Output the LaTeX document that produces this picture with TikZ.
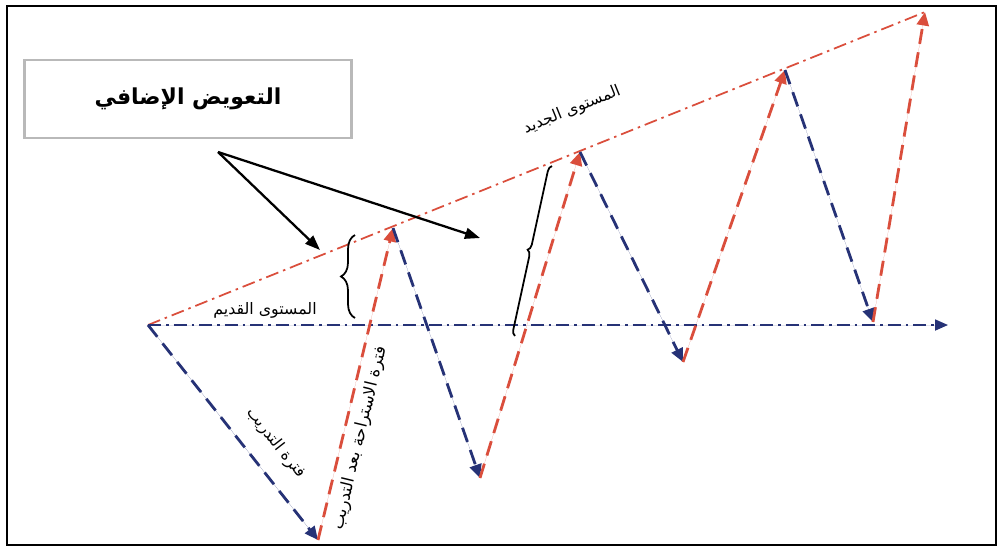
\documentclass[tikz,border=0pt]{standalone}
\usepackage{fontspec}
\newfontfamily\arabicfont[Script=Arabic]{DejaVu Sans}
\TeXXeTstate=1
\usetikzlibrary{arrows.meta,calc,positioning,decorations.pathreplacing}
\definecolor{zigred}{RGB}{218,78,60}
\definecolor{zigblue}{RGB}{38,50,118}
\tikzset{
  fall/.style={-{Triangle[length=2.7mm,width=2.4mm]},line width=1.6pt,draw=zigblue,fill=zigblue,dash pattern=on 3mm off 1.7mm},
  rise/.style={-{Triangle[length=2.7mm,width=2.4mm]},line width=1.6pt,draw=zigred,fill=zigred,dash pattern=on 3mm off 1.7mm},
  oldlevel/.style={-{Triangle[length=2.6mm,width=2.2mm]},line width=1pt,draw=zigblue,fill=zigblue,dash pattern=on 2.6mm off 1mm on 0.5mm off 1mm},
  newlevel/.style={line width=1pt,draw=zigred,dash pattern=on 2.6mm off 1mm on 0.5mm off 1mm},
  pointer/.style={-{Triangle[length=3mm,width=2.2mm]},line width=1.3pt,draw=black},
  gap/.style={decorate,decoration={brace,amplitude=#1},line width=1pt,draw=black},
  arlabel/.style={font=\arabicfont\fontsize{9}{11}\selectfont,inner sep=1pt},
  notebox/.style={draw=gray!55,line width=1.4pt,fill=white,minimum width=65.4mm,minimum height=15.6mm,font=\arabicfont\bfseries\fontsize{12.5}{15}\selectfont}
}
\begin{document}
\begin{tikzpicture}[x=0.2mm,y=-0.2mm]
  \useasboundingbox (0,0) rectangle (1000,550);
  \draw[line width=1.6pt] (7,6) rectangle (996,545);
  \coordinate (p0) at (148,325);
  \coordinate (p1) at (318,540);
  \coordinate (p2) at (393,228);
  \coordinate (p3) at (480,478);
  \coordinate (p4) at (580,152);
  \coordinate (p5) at (683,362);
  \coordinate (p6) at (785,70);
  \coordinate (p7) at (873,322);
  \coordinate (p8) at (925,12);
  \coordinate (axisend) at (948,325);
  \draw[newlevel] (p0)--(p8);
  \draw[oldlevel] (p0)--(axisend);
  \draw[fall] (p0)--(p1);
  \draw[rise] (p1)--(p2);
  \draw[fall] (p2)--(p3);
  \draw[rise] (p3)--(p4);
  \draw[fall] (p4)--(p5);
  \draw[rise] (p5)--(p6);
  \draw[fall] (p6)--(p7);
  \draw[rise] (p7)--(p8);
  \node[notebox] (note) at (188,99) {\beginR التعويض الإضافي\endR};
  \coordinate (src) at (218,152);
  \coordinate (tipA) at (320,250);
  \coordinate (tipB) at (480,238);
  \draw[pointer] (src)--(tipA);
  \draw[pointer] (src)--(tipB);
  \draw[gap=2.8mm] (355,318)--(355,235);
  \draw[gap=1.2mm] (515,336)--(552,166);
  \node[arlabel,rotate=22] (newlbl) at (572,110) {\beginR المستوى الجديد\endR};
  \node[arlabel] (oldlbl) at (265,310) {\beginR المستوى القديم\endR};
  \node[arlabel,rotate=-52] (trainlbl) at (276,443) {\beginR فترة التدريب\endR};
  \node[arlabel,rotate=76.5,font=\arabicfont\fontsize{9.5}{11}\selectfont] (restlbl) at (360,438) {\beginR فترة الاستراحة بعد التدريب\endR};
\end{tikzpicture}
\end{document}
